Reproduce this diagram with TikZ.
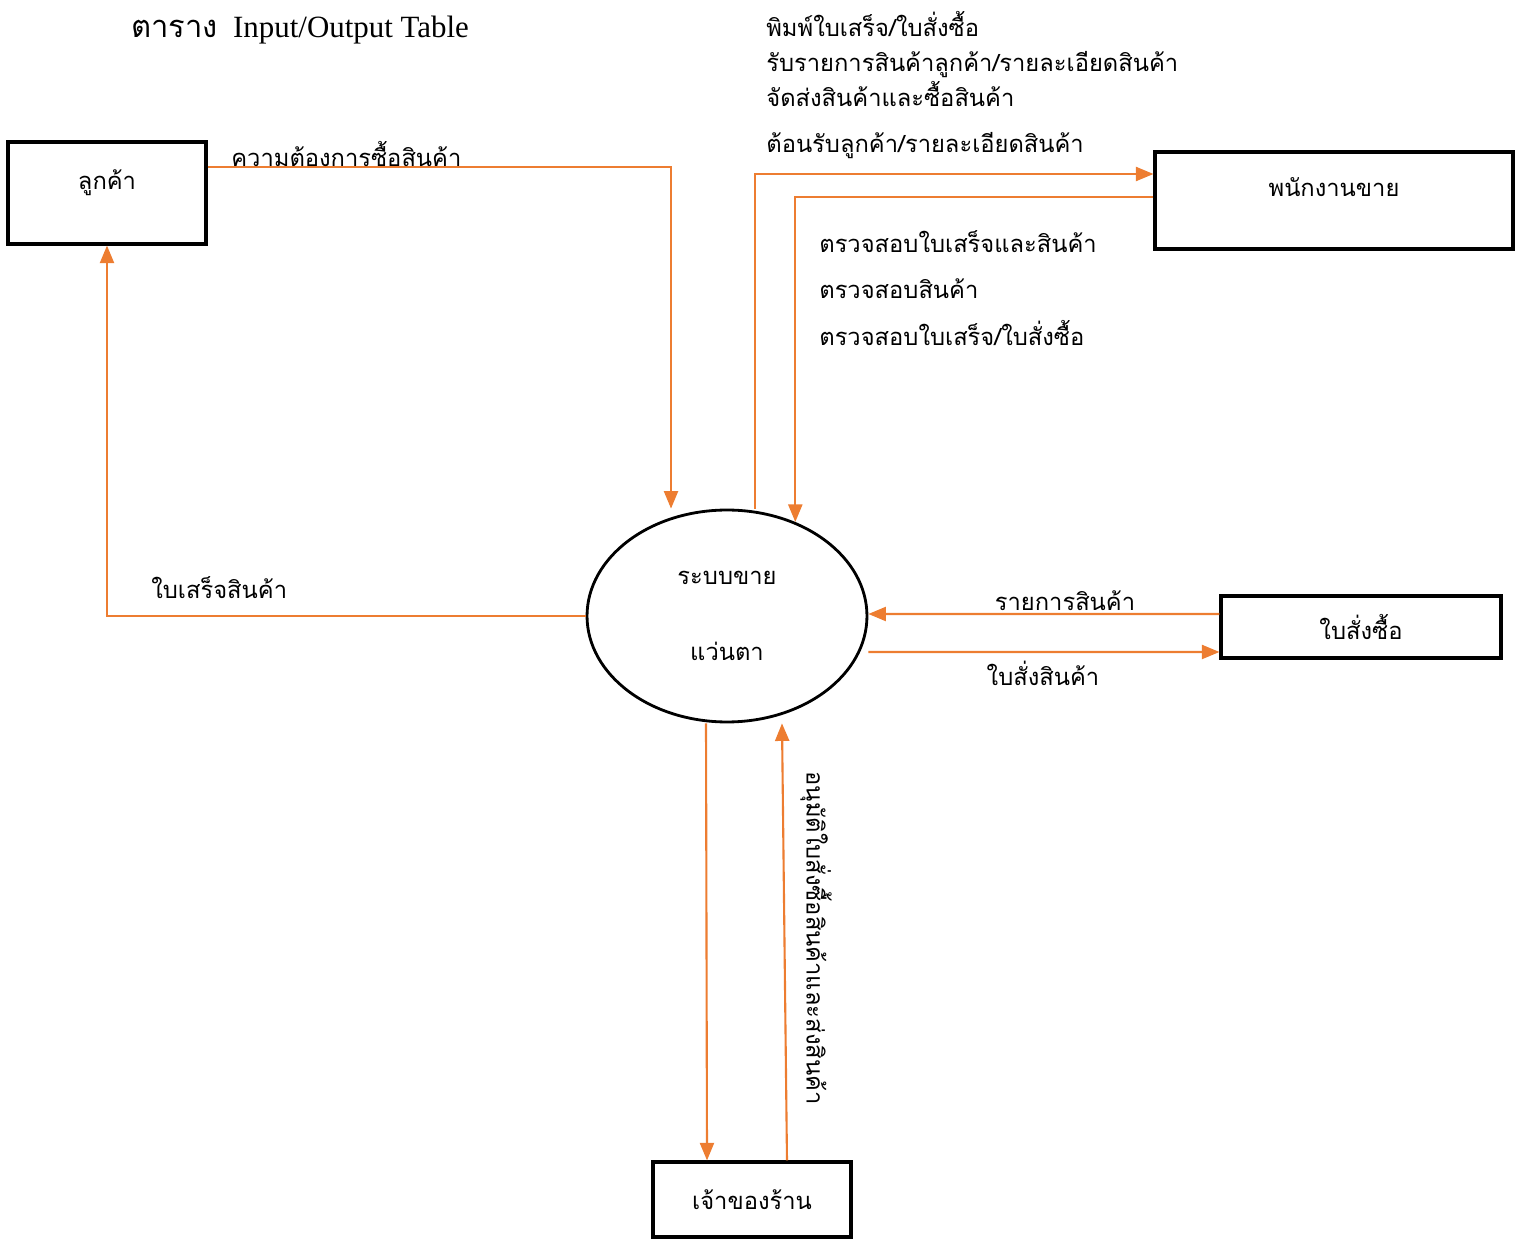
\documentclass[tikz,border=0pt]{standalone}
\usepackage{fontspec}
\setmainfont{Liberation Serif}
\newfontfamily\thai[Script=Thai]{Loma}
\usepackage{tikz}
\usetikzlibrary{arrows.meta,shapes.geometric}
\definecolor{flowc}{RGB}{237,125,49}

\begin{document}
\begin{tikzpicture}[x=0.02cm,y=-0.02cm,
    entity/.style={draw, line width=1.8pt, font=\thai\fontsize{13.5}{15}\selectfont},
    raised/.style={text depth=0.55cm},
    flow/.style={draw=flowc, line width=1.2pt, -{Triangle[length=10pt,width=8pt]}},
    lbl/.style={font=\thai\fontsize{13.5}{15}\selectfont, inner sep=0pt}]
  \useasboundingbox (0,0) rectangle (1522,1239);
  \node[anchor=west, font=\fontsize{17.6}{20}\selectfont] (title) at (125,30) {{\thai ตาราง}\ \ Input/Output Table};
  % entities and process
  \node[entity, raised, minimum width=3.96cm, minimum height=2.04cm] (cust) at (107,193) {ลูกค้า};
  \node[entity, raised, minimum width=7.16cm, minimum height=1.94cm] (staff) at (1334,200.5) {พนักงานขาย};
  \node[entity, minimum width=5.6cm, minimum height=1.24cm] (order) at (1361,627) {ใบสั่งซื้อ};
  \node[entity, minimum width=3.96cm, minimum height=1.5cm] (owner) at (752,1199.5) {เจ้าของร้าน};
  \node[ellipse, draw, line width=1.6pt, minimum width=5.6cm, minimum height=4.24cm, align=center,
        font=\thai\fontsize{13.5}{15}\selectfont] (sys) at (727,616) {ระบบขาย\\[1.0cm]แว่นตา};
  % flows
  \path
    ([yshift=0.52cm]cust.east) edge[flow, to path={-| (\tikztotarget)}] ([xshift=-1.12cm]sys.north)
    (sys.west) edge[flow, to path={-| (\tikztotarget)}] (cust.south)
    ([xshift=0.56cm]sys.north) edge[flow, to path={|- (\tikztotarget)}] ([yshift=0.53cm]staff.west)
    ([yshift=0.07cm]staff.west) edge[flow, to path={-| (\tikztotarget)}] (sys.54)
    ([yshift=0.26cm]order.west) edge[flow] ([yshift=0.04cm]sys.east)
    ([yshift=-0.72cm]sys.east) edge[flow] ([yshift=-0.5cm]order.west)
    ([xshift=-0.42cm]sys.south) edge[flow] ([xshift=-0.9cm]owner.north)
    ([xshift=0.7cm]owner.north) edge[flow] ([xshift=1.1cm]sys.south)
  ;
  % labels
  \node[lbl, anchor=base west] (needl) at (231,167) {ความต้องการซื้อสินค้า};
  \node[lbl, anchor=west] (receiptl) at (151,588) {ใบเสร็จสินค้า};
  \node[lbl, anchor=west, align=left, font=\thai\fontsize{13.5}{20}\selectfont] (tostaffl) at (766,85)
    {พิมพ์ใบเสร็จ/ใบสั่งซื้อ\\รับรายการสินค้าลูกค้า/รายละเอียดสินค้า\\จัดส่งสินค้าและซื้อสินค้า\\[6pt]ต้อนรับลูกค้า/รายละเอียดสินค้า};
  \node[lbl, anchor=west, align=left, font=\thai\fontsize{13.5}{26.6}\selectfont] (checkl) at (819,288)
    {ตรวจสอบใบเสร็จและสินค้า\\ตรวจสอบสินค้า\\ตรวจสอบใบเสร็จ/ใบสั่งซื้อ};
  \node[lbl, anchor=base] (listl) at (1065,611) {รายการสินค้า};
  \node[lbl, anchor=base] (orderl) at (1043,686) {ใบสั่งสินค้า};
  \node[lbl, rotate=-90] (approvel) at (816,938) {อนุมัติใบสั่งซื้อสินค้าและส่งสินค้า};
\end{tikzpicture}
\end{document}
